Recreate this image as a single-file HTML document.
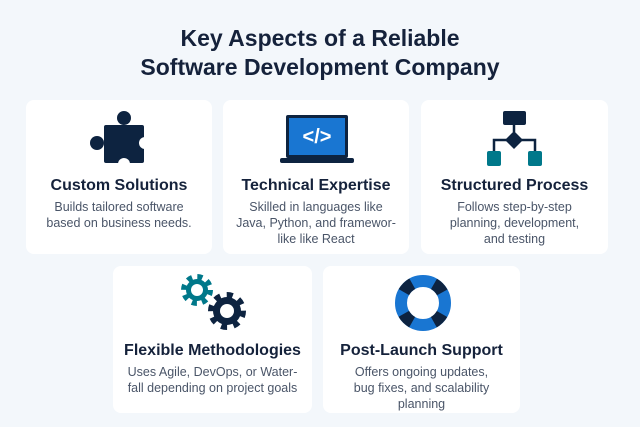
<!DOCTYPE html>
<html><head><meta charset="utf-8"><style>
body{margin:0;width:640px;height:427px;background:#f3f7fb;font-family:"Liberation Sans",sans-serif;position:relative;overflow:hidden}
h1{position:absolute;top:24px;left:0;width:640px;margin:0;text-align:center;font-size:23px;line-height:29px;color:#15223b;font-weight:bold}
.c{position:absolute;background:#fff;border-radius:8px}
.t{position:absolute;left:0;width:100%;text-align:center;font-weight:bold;font-size:16px;color:#15223b}
.d{position:absolute;left:0;width:100%;text-align:center;font-size:12.5px;line-height:16px;color:#4a5568}
svg{position:absolute;left:0;top:0}
</style></head><body>
<h1>Key Aspects of a Reliable<br>Software Development Company</h1>
<div class="c" style="left:26px;top:100px;width:186px;height:154px"><div class="t" style="top:77px">Custom Solutions</div><div class="d" style="top:99px">Builds tailored software<br>based on business needs.</div></div>
<div class="c" style="left:223px;top:100px;width:186px;height:154px"><div class="t" style="top:77px">Technical Expertise</div><div class="d" style="top:99px">Skilled in languages like<br>Java, Python, and framewor-<br>like like React</div></div>
<div class="c" style="left:421px;top:100px;width:187px;height:154px"><div class="t" style="top:77px">Structured Process</div><div class="d" style="top:99px">Follows step-by-step<br>planning, development,<br>and testing</div></div>
<div class="c" style="left:113px;top:266px;width:199px;height:147px"><div class="t" style="top:76px">Flexible Methodologies</div><div class="d" style="top:98px">Uses Agile, DevOps, or Water-<br>fall depending on project goals</div></div>
<div class="c" style="left:323px;top:266px;width:197px;height:147px"><div class="t" style="top:76px">Post-Launch Support</div><div class="d" style="top:98px">Offers ongoing updates,<br>bug fixes, and scalability<br>planning</div></div>
<svg width="640" height="427">
<g fill="#0d2340">
<rect x="104" y="125" width="40" height="38" rx="2"/>
<circle cx="124" cy="118" r="7"/>
<circle cx="97" cy="143" r="7"/>
</g>
<circle cx="145" cy="143" r="6" fill="#fff"/>
<circle cx="124" cy="164" r="6" fill="#fff"/>
<rect x="286" y="115" width="62" height="43" rx="2" fill="#0d2340"/>
<rect x="289" y="118" width="56" height="37" fill="#1976d2"/>
<rect x="280" y="158" width="74" height="5" rx="2" fill="#0d2340"/>
<text x="317" y="143" text-anchor="middle" font-size="20" font-weight="bold" fill="#fff" font-family="Liberation Sans">&lt;/&gt;</text>
<rect x="503" y="111" width="23" height="14" rx="2" fill="#0d2340"/>
<path d="M514 125V132M494 153V140H535V153" stroke="#0d2340" stroke-width="2.5" fill="none"/>
<path d="M514 131L523 140L514 149L505 140Z" fill="#0d2340"/>
<rect x="487" y="151" width="14" height="15" rx="2" fill="#00788a"/>
<rect x="528" y="151" width="14" height="15" rx="2" fill="#00788a"/>
<g>
<circle cx="197" cy="290" r="11" fill="#00788a"/>
<circle cx="197" cy="290" r="13" fill="none" stroke="#00788a" stroke-width="6" stroke-dasharray="5 5.2"/>
<circle cx="197" cy="290" r="6" fill="#fff"/>
<circle cx="227" cy="311" r="14" fill="#0d2340"/>
<circle cx="227" cy="311" r="16" fill="none" stroke="#0d2340" stroke-width="6" stroke-dasharray="6 6.5"/>
<circle cx="227" cy="311" r="7" fill="#fff"/>
</g>
<circle cx="423" cy="303" r="22" fill="none" stroke="#1976d2" stroke-width="12"/>
<circle cx="423" cy="303" r="22" fill="none" stroke="#0d2340" stroke-width="12" stroke-dasharray="12 22.56" stroke-dashoffset="6" transform="rotate(45 423 303)"/>
</svg>
</body></html>
